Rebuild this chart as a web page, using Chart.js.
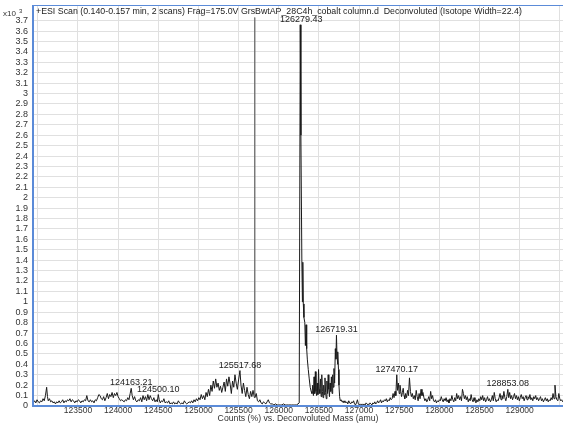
<!DOCTYPE html>
<html>
<head>
<meta charset="utf-8">
<script src="https://cdn.jsdelivr.net/npm/chart.js@4.4.1/dist/chart.umd.min.js"></script>
<style>
  body{margin:0;background:#fff;}
  #wrap{width:563px;height:423px;position:relative;}
</style>
</head>
<body>
<div id="wrap"><canvas id="spectrum"></canvas></div>
<script>
// deconvoluted mass (amu)
const masses=[
 122945,122960,122975,122990,123005,123020,123035,123050,123065,123080,123095,123110,123120,123130,123145,123160,123175,123190,123205,123220,
 123235,123250,123265,123280,123295,123310,123325,123340,123355,123370,123385,123400,123415,123430,123445,123460,123475,123490,123505,123520,
 123535,123550,123565,123580,123595,123610,123625,123640,123655,123670,123685,123700,123715,123730,123745,123760,123775,123790,123805,123820,
 123835,123850,123865,123880,123895,123910,123925,123940,123955,123970,123985,124000,124015,124030,124045,124060,124075,124090,124105,124120,
 124135,124150,124163,124175,124190,124205,124220,124235,124250,124265,124280,124295,124310,124325,124340,124355,124370,124385,124400,124415,
 124430,124445,124460,124475,124488,124500,124512,124525,124540,124555,124570,124585,124600,124615,124630,124645,124660,124675,124690,124705,
 124720,124735,124750,124765,124780,124795,124810,124825,124840,124855,124870,124885,124900,124915,124930,124945,124960,124975,124990,125005,
 125020,125035,125050,125065,125080,125095,125110,125125,125140,125155,125170,125185,125200,125215,125230,125245,125260,125275,125290,125305,
 125320,125335,125350,125365,125380,125395,125410,125425,125440,125455,125470,125485,125500,125517,125530,125545,125560,125575,125590,125605,
 125620,125635,125650,125665,125680,125697,125700,125703,125720,125735,125750,125765,125780,125795,125810,125825,125840,125855,125870,125885,
 125900,125920,125940,125960,125980,126000,126020,126040,126060,126080,126100,126120,126140,126160,126180,126200,126220,126240,126255,126268,
 126276,126288,126295,126300,126306,126314,126325,126332,126340,126348,126356,126368,126380,126392,126404,126414,126424,126432,126440,126448,
 126456,126464,126472,126480,126488,126496,126504,126512,126520,126528,126536,126544,126552,126560,126568,126576,126584,126592,126600,126608,
 126616,126624,126632,126640,126648,126656,126664,126672,126680,126688,126696,126705,126712,126719,126726,126732,126738,126744,126750,126758,
 126766,126776,126788,126800,126812,126824,126836,126848,126860,126872,126884,126896,126908,126920,126932,126944,126956,126968,126980,126992,
 127004,127016,127028,127040,127052,127064,127076,127088,127100,127112,127124,127136,127148,127160,127172,127184,127196,127208,127220,127232,
 127244,127256,127268,127280,127292,127304,127316,127328,127340,127352,127364,127376,127388,127400,127412,127424,127436,127448,127458,127470,
 127480,127490,127500,127510,127520,127530,127540,127550,127560,127570,127580,127592,127604,127616,127628,127640,127652,127664,127676,127688,
 127700,127712,127724,127736,127748,127760,127772,127784,127796,127808,127820,127832,127844,127856,127868,127880,127892,127904,127916,127928,
 127940,127952,127964,127976,127988,128000,128012,128024,128036,128048,128060,128072,128084,128096,128108,128120,128132,128144,128156,128168,
 128180,128192,128204,128216,128228,128240,128252,128264,128276,128288,128300,128312,128324,128336,128348,128360,128372,128384,128396,128408,
 128420,128432,128444,128456,128468,128480,128492,128504,128516,128528,128540,128552,128564,128576,128588,128600,128612,128624,128636,128648,
 128660,128672,128684,128696,128708,128720,128732,128744,128756,128768,128780,128792,128804,128816,128828,128840,128853,128864,128876,128888,
 128900,128912,128924,128936,128948,128960,128972,128984,128996,129008,129020,129032,129044,129056,129068,129080,129092,129104,129116,129128,
 129140,129152,129164,129176,129188,129200,129212,129224,129236,129248,129260,129272,129284,129296,129308,129320,129332,129344,129356,129368,
 129380,129392,129404,129416,129428,129440,129452,129464,129476,129488,129500,129512,129524,129536
];
// counts (x10^3) for each mass above
const counts=[
 0.03,0.05,0.03,0.06,0.04,0.03,0.05,0.04,0.07,0.05,0.10,0.18,0.09,0.05,0.07,0.04,0.05,0.03,0.04,0.02,
 0.04,0.03,0.05,0.03,0.04,0.06,0.03,0.05,0.04,0.06,0.05,0.07,0.04,0.06,0.05,0.03,0.05,0.04,0.06,0.05,
 0.03,0.05,0.04,0.06,0.05,0.10,0.05,0.04,0.06,0.04,0.05,0.03,0.06,0.05,0.08,0.11,0.10,0.07,0.06,0.09,
 0.05,0.08,0.12,0.07,0.11,0.09,0.13,0.08,0.12,0.10,0.13,0.09,0.07,0.05,0.06,0.05,0.04,0.06,0.05,0.08,
 0.06,0.12,0.17,0.10,0.06,0.09,0.05,0.04,0.06,0.05,0.08,0.04,0.10,0.06,0.09,0.05,0.11,0.06,0.10,0.07,
 0.05,0.08,0.04,0.06,0.04,0.11,0.06,0.03,0.05,0.04,0.07,0.03,0.04,0.03,0.05,0.02,0.03,0.02,0.04,0.02,
 0.03,0.02,0.05,0.03,0.02,0.03,0.02,0.05,0.03,0.02,0.03,0.04,0.03,0.05,0.03,0.06,0.04,0.07,0.05,0.08,
 0.06,0.11,0.07,0.10,0.06,0.13,0.09,0.16,0.10,0.20,0.14,0.24,0.17,0.26,0.18,0.22,0.15,0.19,0.13,0.18,
 0.23,0.14,0.26,0.19,0.28,0.21,0.12,0.24,0.18,0.30,0.22,0.16,0.25,0.34,0.20,0.12,0.22,0.15,0.09,0.18,
 0.11,0.07,0.14,0.09,0.15,0.08,3.73,0.08,0.12,0.05,0.04,0.06,0.03,0.02,0.04,0.03,0.02,0.04,0.06,0.03,
 0.02,0.02,0.01,0.02,0.01,0.01,0.01,0.01,0.02,0.01,0.01,0.01,0.01,0.01,0.01,0.01,0.01,0.02,0.03,3.66,
 2.60,1.40,1.00,1.38,0.98,0.85,0.80,0.58,0.78,0.55,0.45,0.35,0.26,0.18,0.14,0.12,0.20,0.10,0.28,0.12,
 0.33,0.14,0.10,0.22,0.11,0.35,0.16,0.12,0.26,0.09,0.30,0.14,0.08,0.20,0.11,0.27,0.13,0.07,0.24,0.12,
 0.30,0.16,0.09,0.22,0.14,0.28,0.12,0.30,0.18,0.36,0.22,0.55,0.45,0.68,0.48,0.40,0.52,0.35,0.20,0.09,
 0.05,0.06,0.04,0.05,0.03,0.05,0.03,0.04,0.02,0.05,0.03,0.02,0.04,0.03,0.05,0.02,0.01,0.03,0.06,0.02,
 0.01,0.02,0.01,0.02,0.01,0.02,0.01,0.03,0.02,0.01,0.02,0.03,0.02,0.01,0.03,0.02,0.04,0.02,0.03,0.05,
 0.03,0.04,0.06,0.03,0.05,0.04,0.06,0.05,0.07,0.04,0.06,0.05,0.08,0.06,0.07,0.12,0.08,0.14,0.10,0.30,
 0.15,0.22,0.12,0.20,0.14,0.09,0.13,0.17,0.10,0.07,0.12,0.08,0.15,0.10,0.27,0.14,0.09,0.12,0.07,0.10,
 0.06,0.15,0.09,0.05,0.12,0.07,0.16,0.10,0.13,0.08,0.05,0.07,0.04,0.06,0.09,0.05,0.14,0.07,0.10,0.05,
 0.04,0.06,0.03,0.05,0.04,0.06,0.05,0.09,0.06,0.04,0.07,0.05,0.08,0.04,0.06,0.03,0.07,0.05,0.10,0.06,
 0.04,0.08,0.05,0.12,0.07,0.10,0.06,0.09,0.05,0.16,0.12,0.07,0.10,0.06,0.09,0.04,0.07,0.05,0.11,0.06,
 0.04,0.08,0.05,0.03,0.06,0.04,0.07,0.05,0.09,0.06,0.10,0.05,0.08,0.04,0.06,0.09,0.05,0.07,0.04,0.06,
 0.10,0.05,0.13,0.07,0.04,0.06,0.05,0.08,0.12,0.06,0.10,0.07,0.14,0.08,0.05,0.09,0.16,0.08,0.13,0.07,
 0.10,0.06,0.09,0.12,0.07,0.10,0.06,0.09,0.05,0.08,0.11,0.07,0.09,0.05,0.08,0.10,0.06,0.09,0.07,0.11,
 0.06,0.08,0.05,0.09,0.07,0.10,0.06,0.08,0.05,0.07,0.09,0.05,0.07,0.04,0.06,0.08,0.05,0.07,0.04,0.06,
 0.05,0.08,0.06,0.12,0.07,0.20,0.09,0.06,0.05,0.12,0.07,0.05,0.06,0.04
];
// the thin grey line near 125700
const markerMass=125700;
// labelled peaks
const peakMasses=[124163.21,124500.10,125517.68,126279.43,126719.31,127470.17,128853.08];
const peakHeights=[0.17,0.11,0.34,3.66,0.68,0.30,0.16];
// x grid positions, and which of them carry a label
const xTicks=[123000,123500,124000,124500,125000,125500,126000,126500,127000,127500,128000,128500,129000,129500];
const xLabelFrom=123500, xLabelTo=129000;

const titleText='+ESI Scan (0.140-0.157 min, 2 scans) Frag=175.0V GrsBwtAP_28C4h_cobalt column.d  Deconvoluted (Isotope Width=22.4)';
const xTitle='Counts (%) vs. Deconvoluted Mass (amu)';

const FONT='"Liberation Sans", Arial, sans-serif';
Chart.defaults.font.family=FONT;
Chart.defaults.font.size=9;
Chart.defaults.color='#333';

const points=masses.map((m,i)=>({x:m,y:counts[i]}));

// frame, title text and peak labels
const decor={
  id:'decor',
  afterDatasetsDraw(chart){
    const ctx=chart.ctx, a=chart.chartArea;
    const xs=chart.scales.x, ys=chart.scales.y;
    ctx.save();
    ctx.fillStyle='#333';
    ctx.textAlign='center';
    ctx.textBaseline='middle';
    ctx.font='8.7px '+FONT;
    ctx.fillText(xTitle,(a.left+a.right)/2,419);
    // peak labels
    ctx.fillStyle='#222';
    ctx.font='9px '+FONT;
    ctx.textBaseline='bottom';
    peakMasses.forEach((m,i)=>{
      ctx.fillText(m.toFixed(2),xs.getPixelForValue(m),ys.getPixelForValue(peakHeights[i])-1);
    });
    ctx.textAlign='left';
    ctx.textBaseline='middle';
    ctx.font='8.8px '+FONT;
    ctx.fillText(titleText,a.left+3,12);
    // multiplier
    ctx.fillStyle='#333';
    ctx.font='8px '+FONT;
    ctx.fillText('x10',3,14);
    ctx.font='6px '+FONT;
    ctx.fillText('3',19,11);
    // frame
    ctx.strokeStyle='#5b8bd8';
    ctx.lineWidth=2;
    ctx.beginPath();
    ctx.moveTo(a.left,a.top);ctx.lineTo(a.left,a.bottom);ctx.lineTo(a.right,a.bottom);
    ctx.stroke();
    ctx.lineWidth=1;
    ctx.beginPath();
    ctx.moveTo(a.left,a.top+0.5);ctx.lineTo(a.right,a.top+0.5);
    ctx.stroke();
    ctx.restore();
  }
};

new Chart(document.getElementById('spectrum'),{
  type:'scatter',
  data:{datasets:[{
    data:points,
    showLine:true,
    borderColor:'#1a1a1a',
    borderWidth:1,
    pointRadius:0,
    tension:0,
    segment:{
      borderColor:c=>(c.p0.parsed.x===markerMass||c.p1.parsed.x===markerMass)?'#6f6f6f':undefined
    }
  }]},
  options:{
    responsive:true,
    maintainAspectRatio:false,
    animation:false,
    layout:{padding:{top:5,left:0,right:0,bottom:0}},
    plugins:{legend:{display:false},tooltip:{enabled:false}},
    scales:{
      x:{
        type:'linear',
        min:122940,max:129540,
        afterBuildTicks(s){s.ticks=xTicks.map(v=>({value:v}));},
        afterFit(s){s.height=17;s.paddingLeft=0;s.paddingRight=0;},
        ticks:{maxRotation:0,autoSkip:false,padding:0,font:{size:8.5},
          callback:v=>(v>=xLabelFrom&&v<=xLabelTo)?String(v):''},
        grid:{color:'#e0e0e0',drawTicks:false},
        border:{display:false}
      },
      y:{
        min:0,max:3.85,
        afterBuildTicks(s){s.ticks=s.ticks.filter(t=>t.value<=3.7001);},
        afterFit(s){s.width=33;s.paddingTop=0;s.paddingBottom=0;},
        ticks:{stepSize:0.1,padding:5,autoSkip:false,
          callback:v=>String(Number(v.toFixed(1)))},
        grid:{color:'#e0e0e0',drawTicks:false},
        border:{display:false}
      }
    }
  },
  plugins:[decor]
});
</script>
</body>
</html>
